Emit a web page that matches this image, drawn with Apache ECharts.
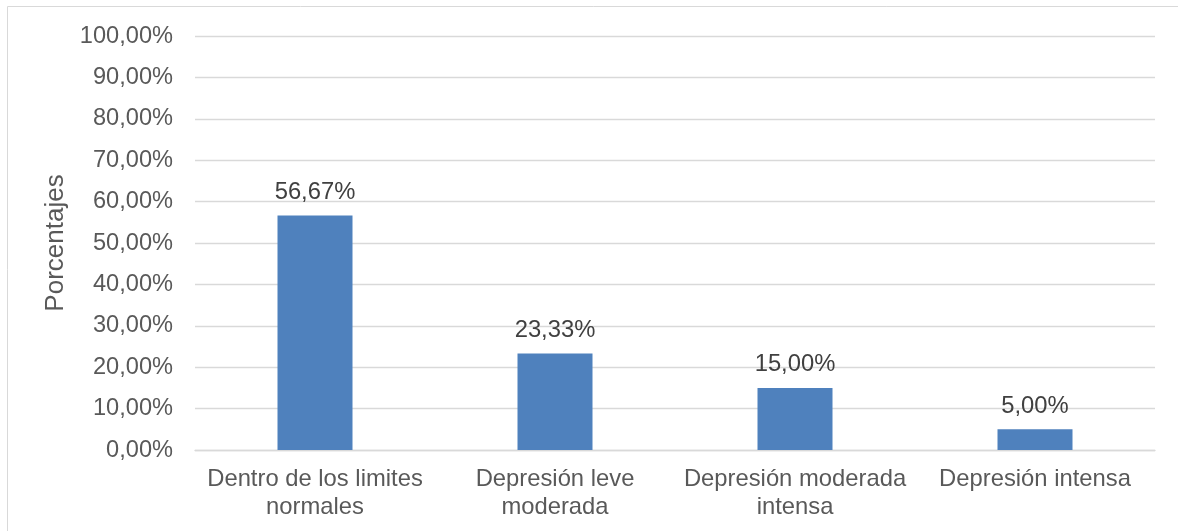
<!DOCTYPE html>
<html><head><meta charset="utf-8">
<script src="https://cdn.jsdelivr.net/npm/echarts@6/dist/echarts.min.js"></script>
<style>html,body{margin:0;padding:0;background:#fff}#c{width:1178px;height:531px}</style>
</head><body><div id="c"></div>
<script>
const categories = ["Dentro de los limites\nnormales", "Depresión leve\nmoderada", "Depresión moderada\nintensa", "Depresión intensa"];
const values = [56.67, 23.33, 15.00, 5.00];
const yAxisName = "Porcentajes";

const fmt = v => v.toFixed(2).replace('.', ',') + '%';
const chart = echarts.init(document.getElementById('c'));
chart.setOption({
  animation: false,
  textStyle: { fontFamily: 'Liberation Sans, Arial, sans-serif' },
  graphic: [{ type: 'rect', shape: { x: 7.5, y: 6.5, width: 1200, height: 600 }, style: { fill: 'none', stroke: '#d9d9d9', lineWidth: 1 }, silent: true }],
  grid: { left: 195, right: 23, top: 36, bottom: 81, containLabel: false },
  xAxis: {
    type: 'category', data: categories,
    axisLine: { show: true, lineStyle: { color: '#d9d9d9', width: 1.3 } },
    axisTick: { show: false },
    axisLabel: { color: '#595959', fontSize: 23.8, lineHeight: 28, margin: 15, interval: 0 }
  },
  yAxis: {
    type: 'value', min: 0, max: 100, interval: 10,
    name: yAxisName, nameLocation: 'middle', nameGap: 125, nameRotate: 90,
    nameTextStyle: { color: '#595959', fontSize: 26 },
    axisLine: { show: false }, axisTick: { show: false },
    axisLabel: { color: '#595959', fontSize: 23.6, margin: 22, formatter: v => fmt(v) },
    splitLine: { lineStyle: { color: '#d9d9d9', width: 1.3 } }
  },
  series: [{
    type: 'bar', data: values, barWidth: 75,
    itemStyle: { color: '#4f81bd' },
    label: { show: true, position: 'top', distance: 11, color: '#404040', fontSize: 23.8, formatter: p => fmt(p.value) }
  }]
});
</script></body></html>
